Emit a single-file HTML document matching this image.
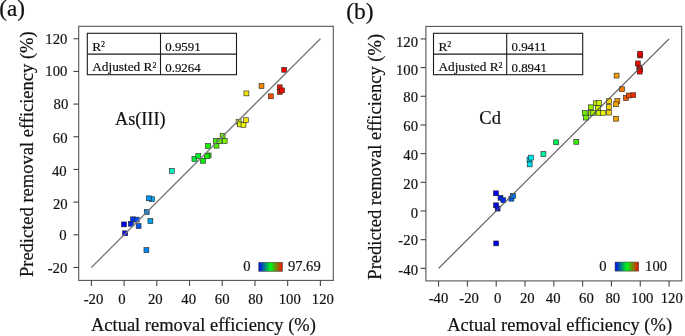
<!DOCTYPE html>
<html><head><meta charset="utf-8"><style>
html,body{margin:0;padding:0;background:#fff;}
svg{display:block;will-change:transform;filter:blur(0.3px);}
text{font-family:"Liberation Serif",serif;fill:#111;stroke:#111;stroke-width:0.2px;}
</style></head><body>
<svg width="685" height="336" viewBox="0 0 685 336">
<rect width="685" height="336" fill="#fff"/>
<rect x="121.55" y="221.95" width="4.9" height="4.9" fill="#0000f2" stroke="#222" stroke-width="0.6"/>
<rect x="122.65" y="230.85" width="4.9" height="4.9" fill="#0006f2" stroke="#222" stroke-width="0.6"/>
<rect x="128.35" y="221.35" width="4.9" height="4.9" fill="#0028f2" stroke="#222" stroke-width="0.6"/>
<rect x="130.65" y="216.85" width="4.9" height="4.9" fill="#0036f2" stroke="#222" stroke-width="0.6"/>
<rect x="134.25" y="217.15" width="4.9" height="4.9" fill="#004cf2" stroke="#222" stroke-width="0.6"/>
<rect x="136.15" y="223.65" width="4.9" height="4.9" fill="#0057f2" stroke="#222" stroke-width="0.6"/>
<rect x="147.95" y="218.65" width="4.9" height="4.9" fill="#009ff2" stroke="#222" stroke-width="0.6"/>
<rect x="144.25" y="209.55" width="4.9" height="4.9" fill="#0089f2" stroke="#222" stroke-width="0.6"/>
<rect x="149.55" y="196.75" width="4.9" height="4.9" fill="#00a9f2" stroke="#222" stroke-width="0.6"/>
<rect x="146.35" y="195.85" width="4.9" height="4.9" fill="#0095f2" stroke="#222" stroke-width="0.6"/>
<rect x="143.95" y="247.65" width="4.9" height="4.9" fill="#0087f2" stroke="#222" stroke-width="0.6"/>
<rect x="169.35" y="168.45" width="4.9" height="4.9" fill="#00f2c3" stroke="#222" stroke-width="0.6"/>
<rect x="191.95" y="156.45" width="4.9" height="4.9" fill="#00f23a" stroke="#222" stroke-width="0.6"/>
<rect x="195.85" y="153.65" width="4.9" height="4.9" fill="#00f222" stroke="#222" stroke-width="0.6"/>
<rect x="200.55" y="158.35" width="4.9" height="4.9" fill="#00f206" stroke="#222" stroke-width="0.6"/>
<rect x="206.15" y="152.95" width="4.9" height="4.9" fill="#1bf200" stroke="#222" stroke-width="0.6"/>
<rect x="204.55" y="153.85" width="4.9" height="4.9" fill="#12f200" stroke="#222" stroke-width="0.6"/>
<rect x="205.55" y="143.55" width="4.9" height="4.9" fill="#18f200" stroke="#222" stroke-width="0.6"/>
<rect x="214.05" y="143.25" width="4.9" height="4.9" fill="#4bf200" stroke="#222" stroke-width="0.6"/>
<rect x="213.35" y="138.55" width="4.9" height="4.9" fill="#47f200" stroke="#222" stroke-width="0.6"/>
<rect x="217.05" y="138.55" width="4.9" height="4.9" fill="#5ef200" stroke="#222" stroke-width="0.6"/>
<rect x="222.25" y="138.55" width="4.9" height="4.9" fill="#7df200" stroke="#222" stroke-width="0.6"/>
<rect x="220.15" y="133.55" width="4.9" height="4.9" fill="#70f200" stroke="#222" stroke-width="0.6"/>
<rect x="236.15" y="119.25" width="4.9" height="4.9" fill="#d1f200" stroke="#222" stroke-width="0.6"/>
<rect x="237.55" y="121.95" width="4.9" height="4.9" fill="#daf200" stroke="#222" stroke-width="0.6"/>
<rect x="241.05" y="122.35" width="4.9" height="4.9" fill="#eff200" stroke="#222" stroke-width="0.6"/>
<rect x="243.55" y="117.75" width="4.9" height="4.9" fill="#f2e500" stroke="#222" stroke-width="0.6"/>
<rect x="243.95" y="90.95" width="4.9" height="4.9" fill="#f2e300" stroke="#222" stroke-width="0.6"/>
<rect x="259.05" y="83.55" width="4.9" height="4.9" fill="#f28700" stroke="#222" stroke-width="0.6"/>
<rect x="268.35" y="93.85" width="4.9" height="4.9" fill="#f24f00" stroke="#222" stroke-width="0.6"/>
<rect x="281.75" y="67.35" width="4.9" height="4.9" fill="#f20000" stroke="#222" stroke-width="0.6"/>
<rect x="277.25" y="84.85" width="4.9" height="4.9" fill="#f21900" stroke="#222" stroke-width="0.6"/>
<rect x="277.25" y="89.45" width="4.9" height="4.9" fill="#f21900" stroke="#222" stroke-width="0.6"/>
<rect x="279.55" y="87.95" width="4.9" height="4.9" fill="#f20b00" stroke="#222" stroke-width="0.6"/>
<line x1="91.386" y1="267.48" x2="320.384" y2="38.72000000000003" stroke="#7a7a7a" stroke-width="1.35"/>
<rect x="78.7" y="26.3" width="254.60" height="254.10" fill="none" stroke="#555" stroke-width="1.1"/>
<line x1="91.386" y1="280.4" x2="91.386" y2="285.9" stroke="#444" stroke-width="1.1"/>
<line x1="124.1" y1="280.4" x2="124.1" y2="285.9" stroke="#444" stroke-width="1.1"/>
<line x1="156.814" y1="280.4" x2="156.814" y2="285.9" stroke="#444" stroke-width="1.1"/>
<line x1="189.528" y1="280.4" x2="189.528" y2="285.9" stroke="#444" stroke-width="1.1"/>
<line x1="222.242" y1="280.4" x2="222.242" y2="285.9" stroke="#444" stroke-width="1.1"/>
<line x1="254.956" y1="280.4" x2="254.956" y2="285.9" stroke="#444" stroke-width="1.1"/>
<line x1="287.66999999999996" y1="280.4" x2="287.66999999999996" y2="285.9" stroke="#444" stroke-width="1.1"/>
<line x1="320.384" y1="280.4" x2="320.384" y2="285.9" stroke="#444" stroke-width="1.1"/>
<line x1="73.4" y1="38.72000000000003" x2="78.7" y2="38.72000000000003" stroke="#444" stroke-width="1.1"/>
<line x1="73.4" y1="71.40000000000003" x2="78.7" y2="71.40000000000003" stroke="#444" stroke-width="1.1"/>
<line x1="73.4" y1="104.08000000000001" x2="78.7" y2="104.08000000000001" stroke="#444" stroke-width="1.1"/>
<line x1="73.4" y1="136.76000000000002" x2="78.7" y2="136.76000000000002" stroke="#444" stroke-width="1.1"/>
<line x1="73.4" y1="169.44" x2="78.7" y2="169.44" stroke="#444" stroke-width="1.1"/>
<line x1="73.4" y1="202.12" x2="78.7" y2="202.12" stroke="#444" stroke-width="1.1"/>
<line x1="73.4" y1="234.8" x2="78.7" y2="234.8" stroke="#444" stroke-width="1.1"/>
<line x1="73.4" y1="267.48" x2="78.7" y2="267.48" stroke="#444" stroke-width="1.1"/>
<rect x="493.55" y="190.85" width="4.9" height="4.9" fill="#0000f2" stroke="#222" stroke-width="0.6"/>
<rect x="498.05" y="195.35" width="4.9" height="4.9" fill="#001cf2" stroke="#222" stroke-width="0.6"/>
<rect x="500.85" y="197.75" width="4.9" height="4.9" fill="#002ff2" stroke="#222" stroke-width="0.6"/>
<rect x="493.65" y="202.85" width="4.9" height="4.9" fill="#0000f2" stroke="#222" stroke-width="0.6"/>
<rect x="495.15" y="206.15" width="4.9" height="4.9" fill="#0009f2" stroke="#222" stroke-width="0.6"/>
<rect x="508.95" y="196.25" width="4.9" height="4.9" fill="#0066f2" stroke="#222" stroke-width="0.6"/>
<rect x="510.55" y="193.45" width="4.9" height="4.9" fill="#0071f2" stroke="#222" stroke-width="0.6"/>
<rect x="493.75" y="240.95" width="4.9" height="4.9" fill="#0000f2" stroke="#222" stroke-width="0.6"/>
<rect x="527.05" y="157.05" width="4.9" height="4.9" fill="#00dff2" stroke="#222" stroke-width="0.6"/>
<rect x="528.45" y="155.15" width="4.9" height="4.9" fill="#00e9f2" stroke="#222" stroke-width="0.6"/>
<rect x="527.25" y="161.95" width="4.9" height="4.9" fill="#00e1f2" stroke="#222" stroke-width="0.6"/>
<rect x="540.95" y="151.65" width="4.9" height="4.9" fill="#00f2a7" stroke="#222" stroke-width="0.6"/>
<rect x="553.75" y="139.85" width="4.9" height="4.9" fill="#00f250" stroke="#222" stroke-width="0.6"/>
<rect x="573.85" y="139.35" width="4.9" height="4.9" fill="#36f200" stroke="#222" stroke-width="0.6"/>
<rect x="593.45" y="100.85" width="4.9" height="4.9" fill="#baf200" stroke="#222" stroke-width="0.6"/>
<rect x="596.55" y="100.55" width="4.9" height="4.9" fill="#cef200" stroke="#222" stroke-width="0.6"/>
<rect x="588.35" y="104.85" width="4.9" height="4.9" fill="#97f200" stroke="#222" stroke-width="0.6"/>
<rect x="595.55" y="105.55" width="4.9" height="4.9" fill="#c8f200" stroke="#222" stroke-width="0.6"/>
<rect x="582.35" y="110.55" width="4.9" height="4.9" fill="#6ff200" stroke="#222" stroke-width="0.6"/>
<rect x="588.35" y="110.55" width="4.9" height="4.9" fill="#97f200" stroke="#222" stroke-width="0.6"/>
<rect x="590.75" y="110.35" width="4.9" height="4.9" fill="#a7f200" stroke="#222" stroke-width="0.6"/>
<rect x="596.05" y="110.35" width="4.9" height="4.9" fill="#cbf200" stroke="#222" stroke-width="0.6"/>
<rect x="600.45" y="110.35" width="4.9" height="4.9" fill="#e9f200" stroke="#222" stroke-width="0.6"/>
<rect x="583.45" y="115.15" width="4.9" height="4.9" fill="#76f200" stroke="#222" stroke-width="0.6"/>
<rect x="606.45" y="98.75" width="4.9" height="4.9" fill="#f2d200" stroke="#222" stroke-width="0.6"/>
<rect x="606.45" y="104.55" width="4.9" height="4.9" fill="#f2d200" stroke="#222" stroke-width="0.6"/>
<rect x="606.45" y="110.15" width="4.9" height="4.9" fill="#f2d200" stroke="#222" stroke-width="0.6"/>
<rect x="614.95" y="98.65" width="4.9" height="4.9" fill="#f29900" stroke="#222" stroke-width="0.6"/>
<rect x="613.45" y="101.85" width="4.9" height="4.9" fill="#f2a300" stroke="#222" stroke-width="0.6"/>
<rect x="613.65" y="116.25" width="4.9" height="4.9" fill="#f2a200" stroke="#222" stroke-width="0.6"/>
<rect x="614.15" y="73.15" width="4.9" height="4.9" fill="#f29f00" stroke="#222" stroke-width="0.6"/>
<rect x="619.65" y="86.75" width="4.9" height="4.9" fill="#f27a00" stroke="#222" stroke-width="0.6"/>
<rect x="623.55" y="95.45" width="4.9" height="4.9" fill="#f25f00" stroke="#222" stroke-width="0.6"/>
<rect x="626.35" y="93.05" width="4.9" height="4.9" fill="#f24d00" stroke="#222" stroke-width="0.6"/>
<rect x="630.85" y="92.75" width="4.9" height="4.9" fill="#f22e00" stroke="#222" stroke-width="0.6"/>
<rect x="637.75" y="53.05" width="4.9" height="4.9" fill="#f20000" stroke="#222" stroke-width="0.6"/>
<rect x="637.75" y="51.25" width="4.9" height="4.9" fill="#f20000" stroke="#222" stroke-width="0.6"/>
<rect x="635.35" y="60.95" width="4.9" height="4.9" fill="#f21000" stroke="#222" stroke-width="0.6"/>
<rect x="636.85" y="65.15" width="4.9" height="4.9" fill="#f20600" stroke="#222" stroke-width="0.6"/>
<rect x="637.75" y="67.05" width="4.9" height="4.9" fill="#f20000" stroke="#222" stroke-width="0.6"/>
<rect x="637.25" y="69.15" width="4.9" height="4.9" fill="#f20300" stroke="#222" stroke-width="0.6"/>
<line x1="438.57599999999996" y1="268.36" x2="669.072" y2="38.920000000000016" stroke="#555" stroke-width="1.15"/>
<rect x="425.9" y="26.4" width="255.80" height="254.50" fill="none" stroke="#555" stroke-width="1.1"/>
<line x1="438.57599999999996" y1="280.9" x2="438.57599999999996" y2="286.4" stroke="#444" stroke-width="1.1"/>
<line x1="467.388" y1="280.9" x2="467.388" y2="286.4" stroke="#444" stroke-width="1.1"/>
<line x1="496.2" y1="280.9" x2="496.2" y2="286.4" stroke="#444" stroke-width="1.1"/>
<line x1="525.012" y1="280.9" x2="525.012" y2="286.4" stroke="#444" stroke-width="1.1"/>
<line x1="553.824" y1="280.9" x2="553.824" y2="286.4" stroke="#444" stroke-width="1.1"/>
<line x1="582.636" y1="280.9" x2="582.636" y2="286.4" stroke="#444" stroke-width="1.1"/>
<line x1="611.448" y1="280.9" x2="611.448" y2="286.4" stroke="#444" stroke-width="1.1"/>
<line x1="640.26" y1="280.9" x2="640.26" y2="286.4" stroke="#444" stroke-width="1.1"/>
<line x1="669.072" y1="280.9" x2="669.072" y2="286.4" stroke="#444" stroke-width="1.1"/>
<line x1="420.59999999999997" y1="38.920000000000016" x2="425.9" y2="38.920000000000016" stroke="#444" stroke-width="1.1"/>
<line x1="420.59999999999997" y1="67.6" x2="425.9" y2="67.6" stroke="#444" stroke-width="1.1"/>
<line x1="420.59999999999997" y1="96.28" x2="425.9" y2="96.28" stroke="#444" stroke-width="1.1"/>
<line x1="420.59999999999997" y1="124.96000000000001" x2="425.9" y2="124.96000000000001" stroke="#444" stroke-width="1.1"/>
<line x1="420.59999999999997" y1="153.64" x2="425.9" y2="153.64" stroke="#444" stroke-width="1.1"/>
<line x1="420.59999999999997" y1="182.32" x2="425.9" y2="182.32" stroke="#444" stroke-width="1.1"/>
<line x1="420.59999999999997" y1="211.0" x2="425.9" y2="211.0" stroke="#444" stroke-width="1.1"/>
<line x1="420.59999999999997" y1="239.68" x2="425.9" y2="239.68" stroke="#444" stroke-width="1.1"/>
<line x1="420.59999999999997" y1="268.36" x2="425.9" y2="268.36" stroke="#444" stroke-width="1.1"/>
<text x="0" y="0" font-size="15.5" text-anchor="end" transform="translate(67.4 44.3) scale(0.95 1)" >120</text>
<text x="0" y="0" font-size="15.5" text-anchor="end" transform="translate(67.4 75.9) scale(0.95 1)" >100</text>
<text x="0" y="0" font-size="15.5" text-anchor="end" transform="translate(68.3 109.3) scale(0.95 1)" >80</text>
<text x="0" y="0" font-size="15.5" text-anchor="end" transform="translate(67.5 142.7) scale(0.95 1)" >60</text>
<text x="0" y="0" font-size="15.5" text-anchor="end" transform="translate(66.6 176.0) scale(0.95 1)" >40</text>
<text x="0" y="0" font-size="15.5" text-anchor="end" transform="translate(67.6 209) scale(0.95 1)" >20</text>
<text x="0" y="0" font-size="15.5" text-anchor="end" transform="translate(66.5 240.1) scale(0.95 1)" >0</text>
<text x="0" y="0" font-size="15.5" text-anchor="end" transform="translate(67.3 272.7) scale(0.95 1)" >-20</text>
<text x="0" y="0" font-size="15.5" text-anchor="end" transform="translate(418.0 47) scale(0.95 1)" >120</text>
<text x="0" y="0" font-size="15.5" text-anchor="end" transform="translate(418.0 74.9) scale(0.95 1)" >100</text>
<text x="0" y="0" font-size="15.5" text-anchor="end" transform="translate(418.0 102.3) scale(0.95 1)" >80</text>
<text x="0" y="0" font-size="15.5" text-anchor="end" transform="translate(418.0 131.1) scale(0.95 1)" >60</text>
<text x="0" y="0" font-size="15.5" text-anchor="end" transform="translate(418.0 159.6) scale(0.95 1)" >40</text>
<text x="0" y="0" font-size="15.5" text-anchor="end" transform="translate(418.0 188.7) scale(0.95 1)" >20</text>
<text x="0" y="0" font-size="15.5" text-anchor="end" transform="translate(418.0 217.6) scale(0.95 1)" >0</text>
<text x="0" y="0" font-size="15.5" text-anchor="end" transform="translate(418.0 245.4) scale(0.95 1)" >-20</text>
<text x="0" y="0" font-size="15.5" text-anchor="end" transform="translate(418.0 275.3) scale(0.95 1)" >-40</text>
<text x="0" y="0" font-size="15.5" text-anchor="middle" transform="translate(93.475 304) scale(0.95 1)" >-20</text>
<text x="0" y="0" font-size="15.5" text-anchor="middle" transform="translate(122.05 304) scale(0.95 1)" >0</text>
<text x="0" y="0" font-size="15.5" text-anchor="middle" transform="translate(155.3 304) scale(0.95 1)" >20</text>
<text x="0" y="0" font-size="15.5" text-anchor="middle" transform="translate(188.7 304) scale(0.95 1)" >40</text>
<text x="0" y="0" font-size="15.5" text-anchor="middle" transform="translate(222.15 304) scale(0.95 1)" >60</text>
<text x="0" y="0" font-size="15.5" text-anchor="middle" transform="translate(255.55 304) scale(0.95 1)" >80</text>
<text x="0" y="0" font-size="15.5" text-anchor="middle" transform="translate(289.70000000000005 304) scale(0.95 1)" >100</text>
<text x="0" y="0" font-size="15.5" text-anchor="middle" transform="translate(322.85 304) scale(0.95 1)" >120</text>
<text x="0" y="0" font-size="15.5" text-anchor="middle" transform="translate(438.5 303) scale(0.95 1)" >-40</text>
<text x="0" y="0" font-size="15.5" text-anchor="middle" transform="translate(469.1 303) scale(0.95 1)" >-20</text>
<text x="0" y="0" font-size="15.5" text-anchor="middle" transform="translate(497.6 303) scale(0.95 1)" >0</text>
<text x="0" y="0" font-size="15.5" text-anchor="middle" transform="translate(527.3 303) scale(0.95 1)" >20</text>
<text x="0" y="0" font-size="15.5" text-anchor="middle" transform="translate(553.15 303) scale(0.95 1)" >40</text>
<text x="0" y="0" font-size="15.5" text-anchor="middle" transform="translate(586.45 303) scale(0.95 1)" >60</text>
<text x="0" y="0" font-size="15.5" text-anchor="middle" transform="translate(612.75 303) scale(0.95 1)" >80</text>
<text x="0" y="0" font-size="15.5" text-anchor="middle" transform="translate(642.4 303) scale(0.95 1)" >100</text>
<text x="0" y="0" font-size="15.5" text-anchor="middle" transform="translate(671.7 303) scale(0.95 1)" >120</text>
<text x="0" y="0" font-size="18.5" text-anchor="start" transform="translate(91.0 331) scale(0.999 1)" >Actual removal efficiency (%)</text>
<text x="0" y="0" font-size="18.5" text-anchor="start" transform="translate(447.2 331) scale(0.999 1)" >Actual removal efficiency (%)</text>
<text x="0" y="0" font-size="18.5" text-anchor="middle" transform="translate(33.1 154.2) rotate(-90)">Predicted removal efficiency (%)</text>
<text x="0" y="0" font-size="18.5" text-anchor="middle" transform="translate(380.5 156.8) rotate(-90)">Predicted removal efficiency (%)</text>
<text x="-0.7" y="15.8" font-size="23.2" text-anchor="start" >(a)</text>
<text x="346.2" y="19.2" font-size="23.5" text-anchor="start" >(b)</text>
<text x="115.0" y="124.8" font-size="18.2" text-anchor="start" >As(III)</text>
<text x="479.3" y="124.1" font-size="18.5" text-anchor="start" >Cd</text>
<text x="0" y="0" font-size="15.2" text-anchor="start" transform="translate(243.3 271) scale(0.96 1)" >0</text>
<text x="0" y="0" font-size="15.2" text-anchor="start" transform="translate(287.9 271) scale(0.96 1)" >97.69</text>
<text x="0" y="0" font-size="15.2" text-anchor="start" transform="translate(599.2 271) scale(0.96 1)" >0</text>
<text x="0" y="0" font-size="15.2" text-anchor="start" transform="translate(645.1 271) scale(0.96 1)" >100</text>
<rect x="87.3" y="33.3" width="149.20" height="41.40" fill="none" stroke="#1a1a1a" stroke-width="1.1"/>
<line x1="87.3" y1="54.1" x2="236.5" y2="54.1" stroke="#1a1a1a" stroke-width="1.1"/>
<line x1="160.5" y1="33.3" x2="160.5" y2="74.7" stroke="#1a1a1a" stroke-width="1.1"/>
<text x="92.2" y="50.8" font-size="13.3" text-anchor="start" >R<tspan font-size="8" dy="-3.7">2</tspan></text>
<text x="92.2" y="71.3" font-size="13.3" text-anchor="start" >Adjusted R<tspan font-size="8" dy="-3.7">2</tspan></text>
<text x="0" y="0" font-size="13.0" text-anchor="start" transform="translate(165.3 51.2) scale(0.99 1)" >0.9591</text>
<text x="0" y="0" font-size="13.0" text-anchor="start" transform="translate(165.3 72.1) scale(0.99 1)" >0.9264</text>
<rect x="433.5" y="33.3" width="149.20" height="41.40" fill="none" stroke="#1a1a1a" stroke-width="1.1"/>
<line x1="433.5" y1="54.1" x2="582.7" y2="54.1" stroke="#1a1a1a" stroke-width="1.1"/>
<line x1="506.7" y1="33.3" x2="506.7" y2="74.7" stroke="#1a1a1a" stroke-width="1.1"/>
<text x="438.4" y="50.8" font-size="13.3" text-anchor="start" >R<tspan font-size="8" dy="-3.7">2</tspan></text>
<text x="438.4" y="71.3" font-size="13.3" text-anchor="start" >Adjusted R<tspan font-size="8" dy="-3.7">2</tspan></text>
<text x="0" y="0" font-size="13.0" text-anchor="start" transform="translate(511.5 51.2) scale(0.99 1)" >0.9411</text>
<text x="0" y="0" font-size="13.0" text-anchor="start" transform="translate(511.5 72.1) scale(0.99 1)" >0.8941</text>
<defs><linearGradient id="cb" x1="0" y1="0" x2="1" y2="0"><stop offset="0" stop-color="#0008f0"/><stop offset="0.5" stop-color="#00f818"/><stop offset="1" stop-color="#f01000"/></linearGradient></defs>
<rect x="258.8" y="262.4" width="23.60" height="8.90" fill="url(#cb)" stroke="#333" stroke-opacity="0.8" stroke-width="0.7"/>
<rect x="615.1" y="262.1" width="23.50" height="9.00" fill="url(#cb)" stroke="#333" stroke-opacity="0.8" stroke-width="0.7"/>
</svg></body></html>
